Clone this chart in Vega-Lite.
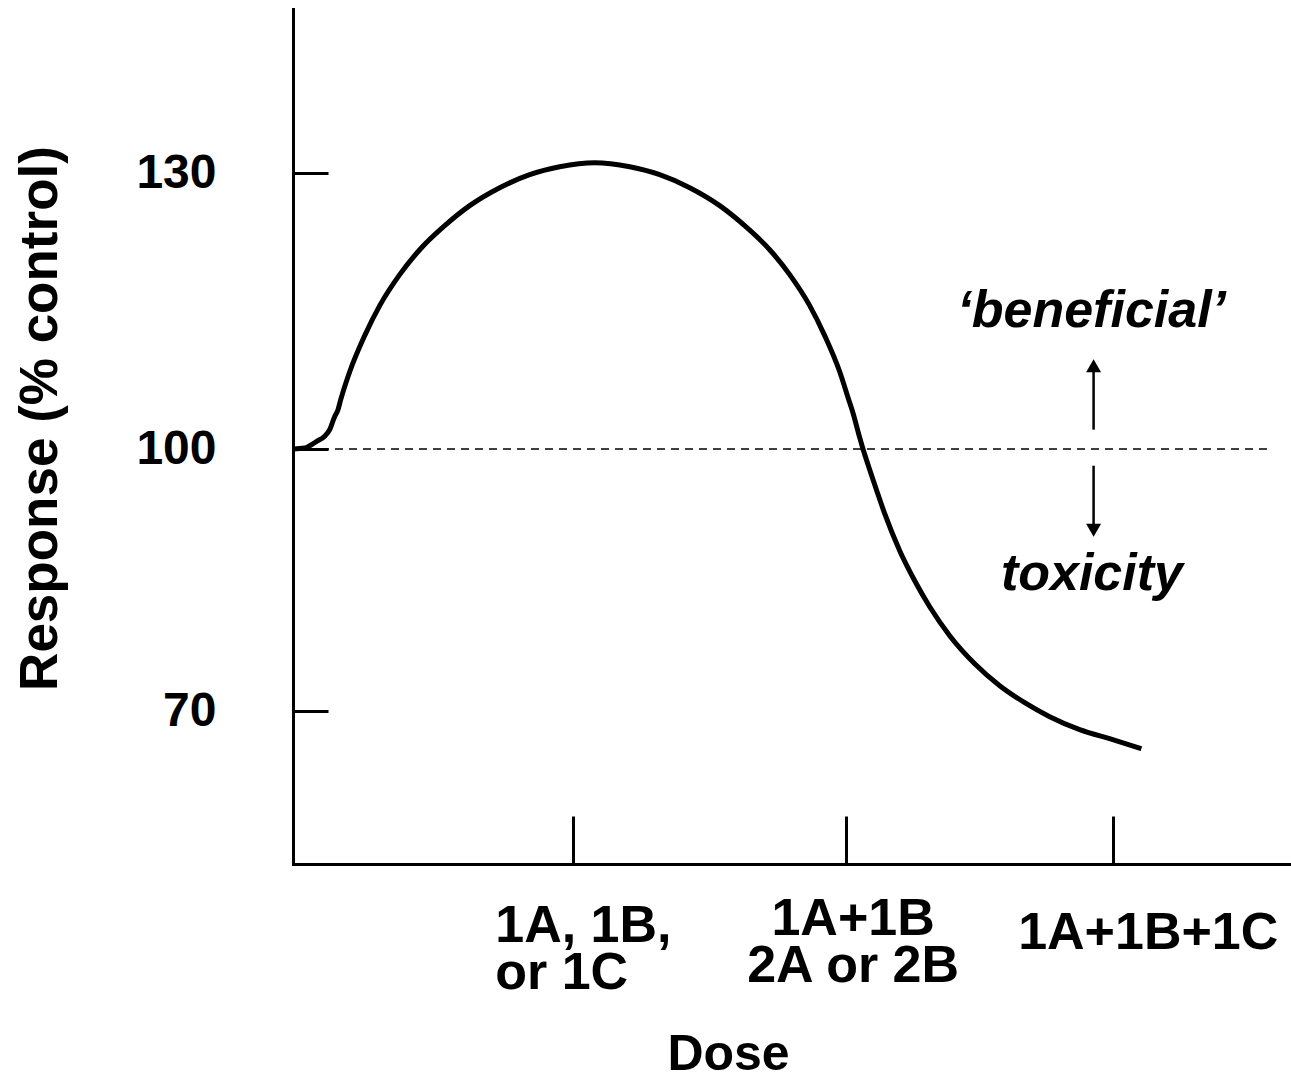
{
  "$schema": "https://vega.github.io/schema/vega-lite/v6.json",
  "width": 998,
  "height": 855,
  "autosize": {"type": "none"},
  "padding": {"left": 293, "top": 9, "right": 0, "bottom": 212},
  "background": "white",
  "config": {"view": {"stroke": null}, "font": "Liberation Sans"},
  "datasets": {
    "baseline": [{"dose": 0, "dose2": 3.565, "response": 100}],
    "curve": [
      {"dose": 0.0, "response": 100.0},
      {"dose": 0.0428, "response": 100.11},
      {"dose": 0.0867, "response": 100.83},
      {"dose": 0.1159, "response": 101.39},
      {"dose": 0.1342, "response": 102.1},
      {"dose": 0.1525, "response": 103.54},
      {"dose": 0.1646, "response": 104.27},
      {"dose": 0.1745, "response": 105.36},
      {"dose": 0.2074, "response": 108.4},
      {"dose": 0.2622, "response": 112.32},
      {"dose": 0.3171, "response": 115.58},
      {"dose": 0.3902, "response": 118.95},
      {"dose": 0.4634, "response": 121.66},
      {"dose": 0.5548, "response": 124.27},
      {"dose": 0.6462, "response": 126.45},
      {"dose": 0.756, "response": 128.4},
      {"dose": 0.8657, "response": 129.82},
      {"dose": 0.9754, "response": 130.68},
      {"dose": 1.1034, "response": 131.12},
      {"dose": 1.2314, "response": 130.68},
      {"dose": 1.3412, "response": 129.82},
      {"dose": 1.4509, "response": 128.4},
      {"dose": 1.5606, "response": 126.45},
      {"dose": 1.652, "response": 124.27},
      {"dose": 1.7435, "response": 121.66},
      {"dose": 1.8166, "response": 118.95},
      {"dose": 1.8898, "response": 115.58},
      {"dose": 1.9446, "response": 112.32},
      {"dose": 1.9995, "response": 108.4},
      {"dose": 2.0324, "response": 105.36},
      {"dose": 2.0481, "response": 103.91},
      {"dose": 2.0726, "response": 101.23},
      {"dose": 2.0847, "response": 100.0},
      {"dose": 2.1092, "response": 97.63},
      {"dose": 2.1337, "response": 95.35},
      {"dose": 2.1641, "response": 92.6},
      {"dose": 2.2189, "response": 88.37},
      {"dose": 2.2738, "response": 84.94},
      {"dose": 2.3286, "response": 81.97},
      {"dose": 2.4018, "response": 78.66},
      {"dose": 2.4932, "response": 75.45},
      {"dose": 2.5847, "response": 72.94},
      {"dose": 2.6761, "response": 71.0},
      {"dose": 2.7675, "response": 69.4},
      {"dose": 2.8773, "response": 67.91},
      {"dose": 2.998, "response": 66.77},
      {"dose": 3.1029, "response": 65.74}
    ],
    "shafts": [
      {"dose": 2.928, "response": 102.1, "response2": 108.4},
      {"dose": 2.928, "response": 98.09, "response2": 91.35}
    ],
    "heads": [
      {"dose": 2.928, "response": 109.05, "dir": "up"},
      {"dose": 2.928, "response": 90.71, "dir": "down"}
    ],
    "notes": [
      {"dose": 2.921, "response": 113.29, "note": "\u2018beneficial\u2019"},
      {"dose": 2.922, "response": 83.93, "note": "toxicity"}
    ]
  },
  "layer": [
    {
      "data": {"name": "baseline"},
      "mark": {"type": "rule", "color": "black", "strokeWidth": 1.5, "strokeDash": [8, 6]},
      "encoding": {
        "x": {
          "field": "dose",
          "type": "quantitative",
          "scale": {"domain": [0, 3.65], "nice": false, "zero": false},
          "axis": {
            "values": [1.023, 2.021, 2.998],
            "title": "Dose",
            "titleFontSize": 50,
            "titleFontWeight": "bold",
            "titleColor": "black",
            "titleX": 435,
            "titleY": 205,
            "titleBaseline": "alphabetic",
            "titleAlign": "center",
            "labelExpr": "datum.value < 1.5 ? ['1A, 1B,', 'or 1C'] : datum.value < 2.5 ? ['1A+1B', '2A or 2B'] : '1A+1B+1C'",
            "labelFontSize": 52,
            "labelFontWeight": "bold",
            "labelColor": "black",
            "labelLineHeight": 47,
            "labelLimit": 0,
            "labelBaseline": "top",
            "labelOverlap": false,
            "labelBound": false,
            "labelFlush": false,
            "labelAlign": {"condition": {"test": "datum.value < 1.5", "value": "left"}, "value": "center"},
            "labelOffset": {"condition": [{"test": "datum.value < 1.5", "value": -78}, {"test": "datum.value < 2.5", "value": 7}], "value": 35},
            "labelPadding": {"condition": [{"test": "datum.value < 1.5", "value": 84}, {"test": "datum.value < 2.5", "value": 77}], "value": 91},
            "tickSize": -48,
            "tickWidth": 3,
            "tickColor": "black",
            "domainColor": "black",
            "domainWidth": 3,
            "domainCap": "square",
            "grid": false
          }
        },
        "x2": {"field": "dose2"},
        "y": {
          "field": "response",
          "type": "quantitative",
          "scale": {"domain": [52.55, 70, 100, 130, 147.83], "range": [855, 702.4, 440, 164, 0], "nice": false, "zero": false},
          "axis": {
            "values": [70, 100, 130],
            "title": "Response (% control)",
            "titleFontSize": 53,
            "titleFontWeight": "bold",
            "titleColor": "black",
            "titleX": -226,
            "titleY": 409,
            "titleAngle": 270,
            "titleBaseline": "bottom",
            "titleAlign": "center",
            "labelFontSize": 48,
            "labelFontWeight": "bold",
            "labelColor": "black",
            "labelLimit": 0,
            "labelPadding": 112,
            "labelBaseline": "middle",
            "tickSize": -35,
            "tickWidth": 3,
            "tickColor": "black",
            "domainColor": "black",
            "domainWidth": 3,
            "domainCap": "square",
            "grid": false
          }
        }
      }
    },
    {
      "data": {"name": "curve"},
      "mark": {"type": "line", "color": "black", "strokeWidth": 5, "interpolate": "monotone", "strokeCap": "butt", "strokeJoin": "round"},
      "encoding": {
        "x": {"field": "dose", "type": "quantitative"},
        "y": {"field": "response", "type": "quantitative"}
      }
    },
    {
      "data": {"name": "shafts"},
      "mark": {"type": "rule", "color": "black", "strokeWidth": 2.5},
      "encoding": {
        "x": {"field": "dose", "type": "quantitative"},
        "y": {"field": "response", "type": "quantitative"},
        "y2": {"field": "response2"}
      }
    },
    {
      "data": {"name": "heads"},
      "mark": {"type": "point", "filled": true, "color": "black", "opacity": 1, "size": 225},
      "encoding": {
        "x": {"field": "dose", "type": "quantitative"},
        "y": {"field": "response", "type": "quantitative"},
        "shape": {"field": "dir", "type": "nominal", "scale": {"domain": ["up", "down"], "range": ["triangle-up", "triangle-down"]}, "legend": null}
      }
    },
    {
      "data": {"name": "notes"},
      "mark": {"type": "text", "color": "black", "fontSize": 52, "fontWeight": "bold", "fontStyle": "italic", "align": "center", "baseline": "alphabetic"},
      "encoding": {
        "x": {"field": "dose", "type": "quantitative"},
        "y": {"field": "response", "type": "quantitative"},
        "text": {"field": "note"}
      }
    }
  ]
}
